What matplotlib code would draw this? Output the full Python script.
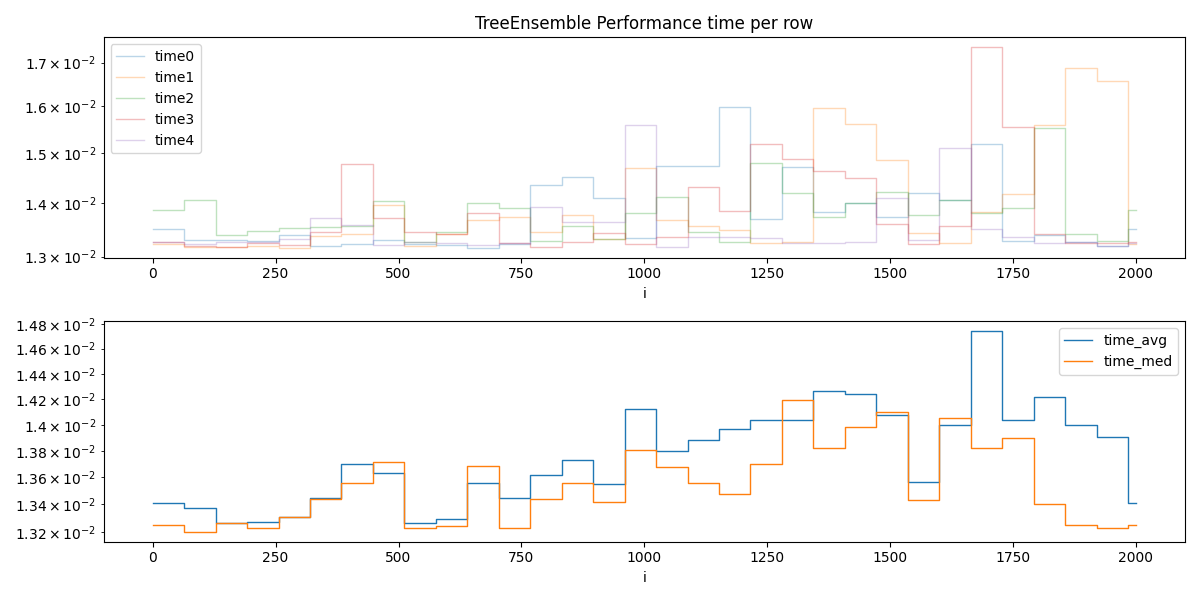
import numpy as np
import matplotlib
matplotlib.use("Agg")
import matplotlib.pyplot as plt

edges = list(range(0, 2000, 64))  # 32 segment starts
x_end = 2000

time0 = [1.351, 1.331, 1.331, 1.329, 1.340, 1.319, 1.323, 1.330, 1.323, 1.321, 1.316, 1.323,
         1.435, 1.451, 1.410, 1.334, 1.474, 1.474, 1.598, 1.370, 1.472, 1.383, 1.399, 1.373,
         1.420, 1.406, 1.519, 1.329, 1.340, 1.326, 1.319, 1.351]
time1 = [1.323, 1.318, 1.318, 1.319, 1.316, 1.338, 1.341, 1.397, 1.319, 1.341, 1.368, 1.373,
         1.345, 1.377, 1.332, 1.470, 1.367, 1.356, 1.348, 1.324, 1.327, 1.596, 1.561, 1.485,
         1.343, 1.324, 1.383, 1.417, 1.559, 1.688, 1.658, 1.323]
time2 = [1.386, 1.405, 1.340, 1.346, 1.352, 1.355, 1.357, 1.403, 1.326, 1.345, 1.399, 1.390,
         1.329, 1.357, 1.332, 1.381, 1.412, 1.345, 1.326, 1.479, 1.420, 1.374, 1.399, 1.422,
         1.376, 1.405, 1.380, 1.390, 1.552, 1.341, 1.328, 1.386]
time3 = [1.326, 1.319, 1.318, 1.324, 1.321, 1.345, 1.477, 1.371, 1.345, 1.342, 1.380, 1.324,
         1.317, 1.326, 1.343, 1.323, 1.335, 1.431, 1.385, 1.519, 1.488, 1.463, 1.449, 1.360,
         1.323, 1.356, 1.736, 1.555, 1.341, 1.325, 1.324, 1.326]
time4 = [1.326, 1.322, 1.326, 1.327, 1.332, 1.371, 1.358, 1.321, 1.327, 1.324, 1.321, 1.324,
         1.392, 1.364, 1.363, 1.559, 1.318, 1.336, 1.336, 1.334, 1.324, 1.324, 1.326, 1.409,
         1.330, 1.510, 1.351, 1.335, 1.324, 1.326, 1.319, 1.324]
time_avg = [1.341, 1.3375, 1.326, 1.327, 1.331, 1.345, 1.370, 1.363, 1.326, 1.329, 1.356, 1.345,
            1.362, 1.373, 1.355, 1.412, 1.380, 1.388, 1.397, 1.404, 1.404, 1.426, 1.424, 1.408,
            1.357, 1.400, 1.474, 1.404, 1.422, 1.400, 1.391, 1.341]
time_med = [1.325, 1.320, 1.326, 1.323, 1.331, 1.344, 1.356, 1.372, 1.323, 1.324, 1.369, 1.323,
            1.344, 1.356, 1.342, 1.381, 1.368, 1.356, 1.348, 1.370, 1.419, 1.382, 1.398, 1.410,
            1.343, 1.405, 1.382, 1.390, 1.340, 1.325, 1.323, 1.325]

xs = np.array(edges + [x_end])

def ext(v):
    return np.array(v + [v[-1]]) * 1e-2

fig, (ax1, ax2) = plt.subplots(2, 1, figsize=(12, 6), dpi=100)
for name, s in [("time0", time0), ("time1", time1), ("time2", time2), ("time3", time3), ("time4", time4)]:
    ax1.plot(xs, ext(s), drawstyle="steps-post", alpha=0.3, lw=1, label=name)
ax1.set_yscale("log")
ax1.set_xlabel("i")
ax1.set_title("TreeEnsemble Performance time per row")
ax1.legend(loc="upper left")

ax2.plot(xs, ext(time_avg), drawstyle="steps-post", lw=1, label="time_avg")
ax2.plot(xs, ext(time_med), drawstyle="steps-post", lw=1, label="time_med")
ax2.set_yscale("log")
ax2.set_xlabel("i")
ax2.legend(loc="upper right")

fig.tight_layout()
fig.savefig("out.png")
